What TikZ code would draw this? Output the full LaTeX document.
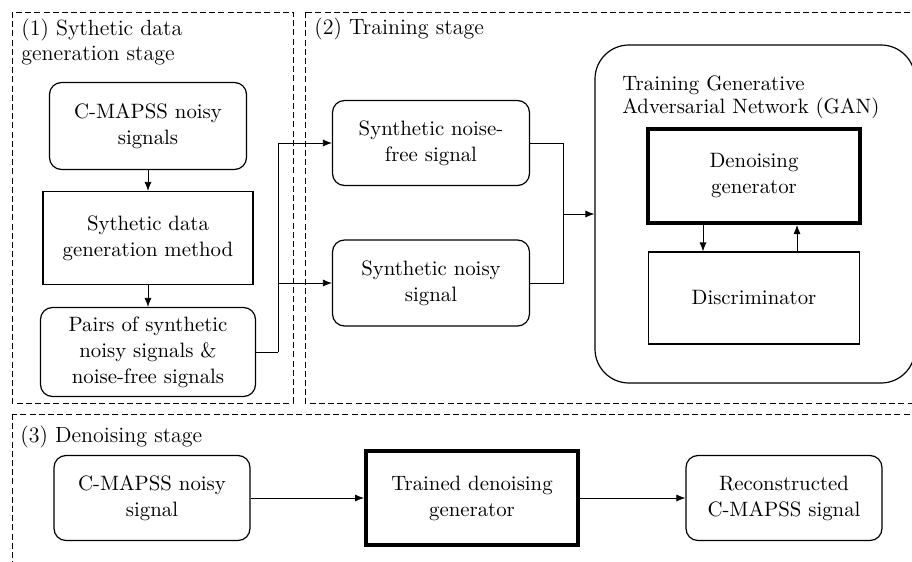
\documentclass[tikz,border=0pt]{standalone}
\usetikzlibrary{arrows.meta}
\begin{document}
\begin{tikzpicture}[x=0.5pt,y=-0.5pt,
  font=\fontsize{10.4}{13}\selectfont,
  rbox/.style={draw, rounded corners=6pt, align=center, inner sep=0pt, line width=0.6pt},
  sbox/.style={draw, align=center, inner sep=0pt, line width=0.6pt},
  thickbox/.style={draw, align=center, inner sep=0pt, line width=2pt},
  frame/.style={draw, dash pattern=on 3pt off 1.6pt, line width=0.5pt},
  stagelabel/.style={anchor=west, align=left, inner sep=0pt, font=\fontsize{11}{12.5}\selectfont},
  link/.style={draw, line width=0.4pt},
  arr/.style={link, -{Latex[length=4.5pt,width=3.5pt]}}]
\clip (0,0) rectangle (912,562);
% stage frames
\draw[frame] (12,12) rectangle (293,403);
\draw[frame] (305,12) rectangle (925,403);
\draw[frame] (12,414) rectangle (925,580);
\node[stagelabel] (lab1) at (21,42) {(1) Sythetic data\\generation stage};
\node[stagelabel] (lab2) at (314,29) {(2) Training stage};
\node[stagelabel] (lab3) at (20,437) {(3) Denoising stage};
% stage 1
\node[rbox, minimum width=98.5pt, minimum height=43.5pt] (cmnoisy) at (148,126) {C-MAPSS noisy\\signals};
\node[sbox, minimum width=105pt, minimum height=46.5pt] (genmethod) at (148,238) {Sythetic data\\generation method};
\node[rbox, minimum width=107.5pt, minimum height=44.5pt] (pairs) at (148,352) {Pairs of synthetic\\noisy signals \&\\noise-free signals};
\draw[arr] (cmnoisy) -- (genmethod);
\draw[arr] (genmethod) -- (pairs);
% stage 2
\node[rbox, minimum width=98.5pt, minimum height=42.5pt] (free) at (431,143) {Synthetic noise-\\free signal};
\node[rbox, minimum width=98.5pt, minimum height=43pt] (noisy) at (431,283) {Synthetic noisy\\signal};
\coordinate (split) at (278,352);
\draw[link] (pairs.east) -- (split);
\draw[arr] (split) |- (free.west);
\draw[arr] (split) |- (noisy.west);
\node[draw, rounded corners=17pt, line width=0.6pt, minimum width=160pt, minimum height=169pt] (gan) at (755,214) {};
\node[anchor=north west, align=left, inner sep=0pt, font=\fontsize{10.4}{11.5}\selectfont] (gantitle) at (622,75) {Training Generative\\Adversarial Network (GAN)};
\coordinate (merge) at (563,214);
\draw[link] (free.east) -| (merge);
\draw[link] (noisy.east) -| (merge);
\draw[arr] (merge) -- (gan.west);
\node[thickbox, minimum width=106pt, minimum height=47pt] (dgen) at (754,176) {Denoising\\generator};
\node[sbox, minimum width=105.5pt, minimum height=46pt] (disc) at (754,298) {Discriminator};
\draw[arr] ([xshift=-25.5pt]dgen.south) -- ([xshift=-25.5pt]disc.north);
\draw[arr] ([xshift=21.5pt]disc.north) -- ([xshift=21.5pt]dgen.south);
% stage 3
\node[rbox, minimum width=98pt, minimum height=42.5pt] (cmsignal) at (152,498) {C-MAPSS noisy\\signal};
\node[thickbox, minimum width=106pt, minimum height=47pt] (tgen) at (472,498) {Trained denoising\\generator};
\node[rbox, minimum width=98pt, minimum height=42.5pt] (recon) at (784,498) {Reconstructed\\C-MAPSS signal};
\draw[arr] (cmsignal) -- (tgen);
\draw[arr] (tgen) -- (recon);
\end{tikzpicture}
\end{document}
